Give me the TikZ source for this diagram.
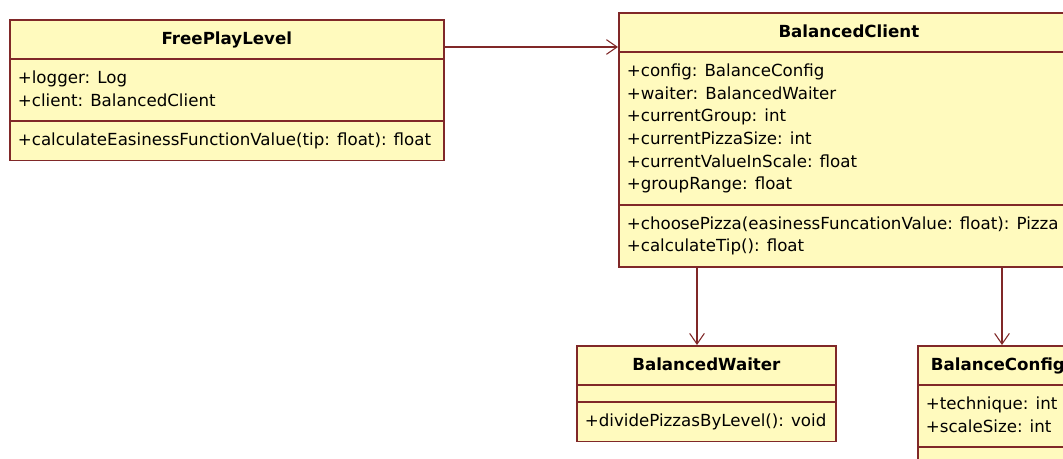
\documentclass[tikz,border=0pt]{standalone}
\usepackage{fontspec}
\setmainfont{DejaVu Sans}
\usetikzlibrary{arrows.meta, shapes.multipart}
\definecolor{umlfill}{RGB}{255,250,190}
\definecolor{umlline}{RGB}{128,40,40}
\newcommand{\tallstrut}{\rule[-7.7pt]{0pt}{22.2pt}}

\begin{document}
\begin{tikzpicture}[x=0.75pt, y=-0.75pt, >={Straight Barb[length=8pt,width=11pt]},
  cls/.style={draw=umlline, fill=umlfill, line width=1.3pt, rectangle split, rectangle split parts=3,
    rectangle split part align={center,left,left}, align=left, anchor=north west,
    inner xsep=6pt, inner ysep=5.6pt, font=\fontsize{12.5}{17}\selectfont},
  assoc/.style={->, draw=umlline, line width=0.8pt}]
\useasboundingbox (0,0) rectangle (1063,459);
\clip (0,0) rectangle (1063,459);
\fill[white] (0,0) rectangle (1063,459);
% classes
\node[cls, minimum width=325.5pt] (level) at (9,19) {\textbf{FreePlayLevel}\strut
  \nodepart{second}\strut+logger: Log\\\strut+client: BalancedClient
  \nodepart{third}\strut+calculateEasinessFunctionValue(tip: float): float};
\node[cls, minimum width=345pt] (client) at (618,12) {\textbf{BalancedClient}\strut
  \nodepart{second}\strut+config: BalanceConfig\\\strut+waiter: BalancedWaiter\\\strut+currentGroup: int\\
  \strut+currentPizzaSize: int\\\strut+currentValueInScale: float\\\strut+groupRange: float
  \nodepart{third}\strut+choosePizza(easinessFuncationValue: float): Pizza\\\strut+calculateTip(): float};
\node[cls, inner ysep=3pt, minimum width=194.25pt] (waiter) at (576,345) {\textbf{BalancedWaiter}\tallstrut
  \nodepart{second}\nodepart{third}\tallstrut+dividePizzasByLevel(): void};
\node[cls, minimum width=120pt] (config) at (917,345) {\textbf{BalanceConfig}\strut
  \nodepart{second}\strut+technique: int\\\strut+scaleSize: int\nodepart{third}};
% associations
\draw[assoc] ([yshift=-21pt]level.north east) -- ([yshift=-26.25pt]client.north west);
\draw[assoc] ([xshift=59.25pt]client.south west) -- ([xshift=90.75pt]waiter.north west);
\draw[assoc] ([xshift=288pt]client.south west) -- ([xshift=63.75pt]config.north west);
\end{tikzpicture}
\end{document}
